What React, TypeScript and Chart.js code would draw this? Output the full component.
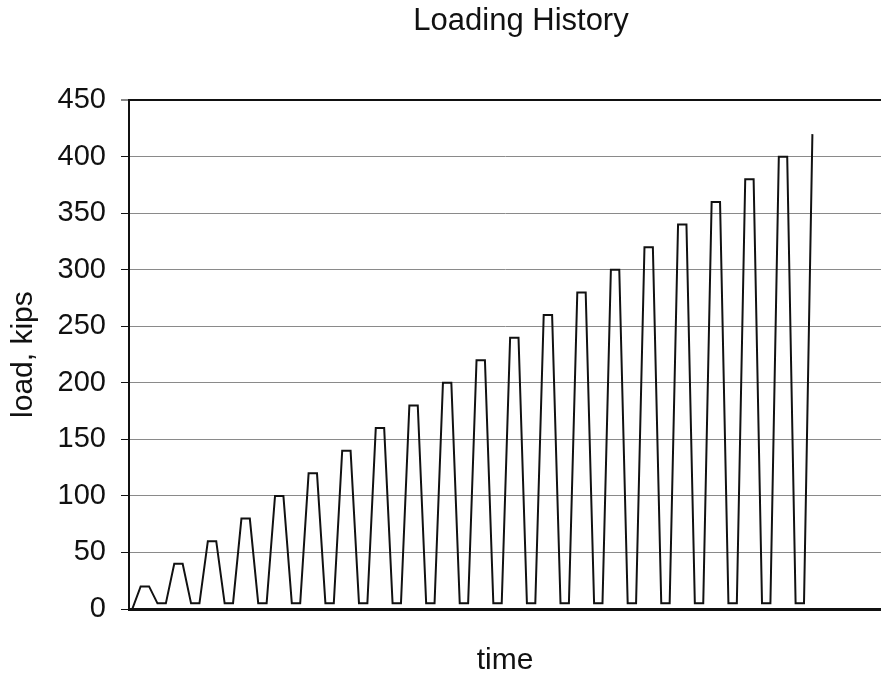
import React, { useEffect, useRef } from "react";
import { Chart, registerables } from "chart.js";

Chart.register(...registerables);

const chartTitle = "Loading History";
const xTitle = "time";
const yTitle = "load, kips";
const yTicks = [0, 50, 100, 150, 200, 250, 300, 350, 400, 450];

// load at each equally spaced time step (rise, hold, unload, hold per cycle)
const loads = [
  0,
  20, 20, 5, 5,
  40, 40, 5, 5,
  60, 60, 5, 5,
  80, 80, 5, 5,
  100, 100, 5, 5,
  120, 120, 5, 5,
  140, 140, 5, 5,
  160, 160, 5, 5,
  180, 180, 5, 5,
  200, 200, 5, 5,
  220, 220, 5, 5,
  240, 240, 5, 5,
  260, 260, 5, 5,
  280, 280, 5, 5,
  300, 300, 5, 5,
  320, 320, 5, 5,
  340, 340, 5, 5,
  360, 360, 5, 5,
  380, 380, 5, 5,
  400, 400, 5, 5,
  420,
];

const FONT = "'Liberation Sans', Arial, Helvetica, sans-serif";

export default function App() {
  const ref = useRef<HTMLCanvasElement | null>(null);

  useEffect(() => {
    if (!ref.current) return;
    const points = loads.map((v, i) => ({ x: i, y: v }));
    const titleShift = {
      id: "titleShift",
      afterLayout(chart: any) {
        const t = chart.titleBlock;
        if (t) {
          const d = 521 - (t.left + t.right) / 2;
          t.left += d;
          t.right += d;
        }
      },
    };
    const chart = new Chart(ref.current, {
      type: "line",
      data: {
        datasets: [
          {
            data: points,
            borderColor: "#111",
            borderWidth: 2,
            pointRadius: 0,
            tension: 0,
            fill: false,
          },
        ],
      },
      options: {
        animation: false,
        responsive: false,
        layout: { padding: 0 },
        plugins: {
          legend: { display: false },
          tooltip: { enabled: false },
          title: {
            display: true,
            text: chartTitle,
            color: "#111",
            font: { family: FONT, size: 31, weight: "normal", lineHeight: 1.2 },
            padding: { top: 3, bottom: 60 },
          },
        },
        scales: {
          x: {
            type: "linear",
            min: -0.39,
            max: 89.17,
            grid: { display: false },
            ticks: { display: false },
            border: { display: true, color: "#111", width: 3 },
            title: {
              display: true,
              text: xTitle,
              color: "#111",
              font: { family: FONT, size: 30, weight: "normal", lineHeight: 1.0 },
              padding: { top: 0, bottom: -1 },
            },
            afterFit: (s: any) => {
              s.height = 66;
            },
          },
          y: {
            type: "linear",
            min: 0,
            max: 450,
            afterBuildTicks: (s: any) => {
              s.ticks = yTicks.map((v) => ({ value: v }));
            },
            grid: {
              color: (c: any) => (c.tick && c.tick.value === 450 ? "#111" : "#8a8a8a"),
              lineWidth: (c: any) => (c.tick && c.tick.value === 450 ? 2 : 1),
              tickColor: "#111",
              tickLength: 8,
              tickWidth: 1,
            },
            border: { display: true, color: "#111", width: 2 },
            ticks: {
              color: "#111",
              padding: 15,
              font: { family: FONT, size: 29 },
            },
            title: {
              display: true,
              text: yTitle,
              color: "#111",
              font: { family: FONT, size: 30, weight: "normal", lineHeight: 1.2 },
              padding: { top: 6, bottom: 0 },
            },
            afterFit: (s: any) => {
              s.width = 129;
            },
          },
        },
      },
      plugins: [titleShift],
    });
    return () => chart.destroy();
  }, []);

  return (
    <div style={{ position: "fixed", left: 0, top: 0, width: 881, height: 675, background: "#fff" }}>
      <canvas ref={ref} width={881} height={675} style={{ display: "block" }} />
    </div>
  );
}
